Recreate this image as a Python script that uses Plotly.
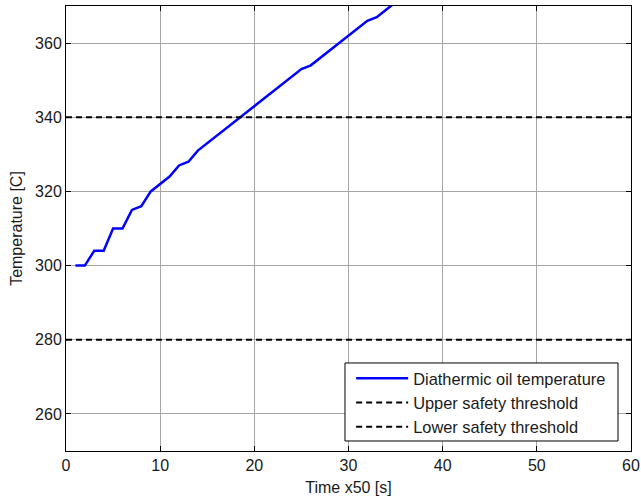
import plotly.graph_objects as go

time_steps = list(range(1, 36))
oil_temp = [300, 300, 304, 304, 310, 310, 315, 316, 320, 322,
            324, 327, 328, 331, 333, 335, 337, 339, 341, 343,
            345, 347, 349, 351, 353, 354, 356, 358, 360, 362,
            364, 366, 367, 369, 371]
upper_threshold = 340
lower_threshold = 280
x_limits = [0, 60]
y_limits = [250, 370]
x_ticks = [0, 10, 20, 30, 40, 50, 60]
y_ticks = [260, 280, 300, 320, 340, 360]

fig = go.Figure()
fig.add_trace(go.Scatter(x=time_steps, y=oil_temp, mode="lines",
                         name="Diathermic oil temperature",
                         line=dict(color="#0000ff", width=2.5)))
fig.add_trace(go.Scatter(x=x_limits, y=[upper_threshold] * 2, mode="lines",
                         name="Upper safety threshold",
                         line=dict(color="black", width=2, dash="6px,4px")))
fig.add_trace(go.Scatter(x=x_limits, y=[lower_threshold] * 2, mode="lines",
                         name="Lower safety threshold",
                         line=dict(color="black", width=2, dash="6px,4px")))

axis_common = dict(showline=True, linecolor="black", linewidth=1, mirror="ticks",
                   ticks="inside", ticklen=5, tickcolor="black",
                   showgrid=True, gridcolor="#a6a6a6", gridwidth=1,
                   zeroline=False, tickfont=dict(size=16, color="#1a1a1a"),
                   automargin=False)

# legend frame (white box with black border) drawn behind the legend entries
fig.add_shape(type="rect", xref="paper", yref="paper",
              x0=0.4938, x1=0.977, y0=0.0225, y1=0.1978,
              line=dict(color="black", width=1), fillcolor="white", layer="above")

fig.update_layout(
    width=641, height=501,
    margin=dict(l=66, r=10, t=6, b=50),
    paper_bgcolor="white", plot_bgcolor="white",
    font=dict(family="Liberation Sans, Arial", size=16, color="#1a1a1a"),
    xaxis=dict(range=x_limits, tickvals=x_ticks,
               title=dict(text="Time x50 [s]", standoff=8, font=dict(size=16)),
               **axis_common),
    yaxis=dict(range=y_limits, tickvals=y_ticks,
               title=dict(text="Temperature [C]", standoff=8, font=dict(size=16)),
               **axis_common),
    legend=dict(x=0.5047, xanchor="left", y=0.2022, yanchor="top",
                bgcolor="rgba(0,0,0,0)", borderwidth=0,
                itemwidth=52,
                font=dict(size=16.4, color="#1a1a1a"), tracegroupgap=0),
    showlegend=True,
)

fig.write_html("out.html", config={"displayModeBar": False},
               post_script="document.body.style.margin='0';document.body.style.padding='0';")
